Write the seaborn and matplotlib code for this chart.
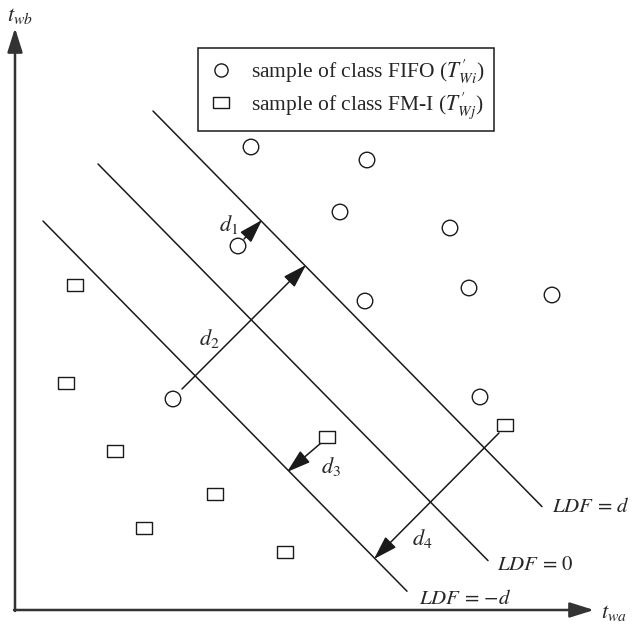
import pandas as pd
import matplotlib.pyplot as plt
import seaborn as sns
from matplotlib.lines import Line2D

# sample positions (picture units, y grows downward)
fifo_x = [251, 367, 340, 450, 238, 365, 469, 552, 173, 480]
fifo_y = [147, 160, 212, 228, 246, 301, 288, 295, 399, 397]
fmi_x = [75, 66, 327, 505, 115, 215, 144, 285]
fmi_y = [285, 383, 437, 425, 451, 494, 528, 552]

# discriminant lines: y = intercept + slope * x
ldf_labels = ['$LDF\\,=\\,d$', '$LDF\\,=\\,0$', '$LDF\\,=\\,{-}d$']
ldf_intercept = [-44.6, 64.3, 177.3]
ldf_slope = 1.017
ldf_xstart = [153, 98, 43]
ldf_xend = [542, 488, 407]
ldf_label_xy = [(552, 508), (497, 566), (419, 600)]

# distance arrows (tail -> head) and their labels
dist_names = ['$d_1$', '$d_2$', '$d_3$', '$d_4$']
dist_tail = [(244, 239), (182, 389), (321, 443), (499, 433)]
dist_head = [(262, 220), (306, 265), (287, 472), (374, 559)]
dist_label_xy = [(229, 224), (209, 339), (331, 467), (422, 539)]

sns.set_style('white')
plt.rcParams['font.family'] = ['Liberation Serif', 'DejaVu Serif']
plt.rcParams['mathtext.fontset'] = 'stix'

fig = plt.figure(figsize=(6.35, 6.27), dpi=100)
ax = fig.add_axes([0, 0, 1, 1])

samples = pd.DataFrame({
    'x': fifo_x + fmi_x,
    'y': fifo_y + fmi_y,
    'cls': ['FIFO'] * len(fifo_x) + ['FM-I'] * len(fmi_x),
})
rect = [(-1, -0.72), (1, -0.72), (1, 0.72), (-1, 0.72), (-1, -0.72)]

rows = []
for i in range(len(ldf_labels)):
    for xx in (ldf_xstart[i], ldf_xend[i]):
        rows.append({'x': xx, 'y': ldf_intercept[i] + ldf_slope * xx, 'level': i})
lines = pd.DataFrame(rows)
sns.lineplot(data=lines, x='x', y='y', units='level', estimator=None,
             sort=False, color='#1a1a1a', lw=1.1, ax=ax, legend=False)

sns.scatterplot(data=samples, x='x', y='y', style='cls',
                markers={'FIFO': 'o', 'FM-I': rect}, color='white',
                edgecolor='#1a1a1a', linewidth=1.0, s=125, ax=ax,
                legend=False, zorder=5)

for i, lab in enumerate(ldf_labels):
    ax.text(*ldf_label_xy[i], lab, fontsize=15, ha='left', va='center')

arrow_kw = dict(arrowstyle='-|>,head_length=0.7,head_width=0.22',
                color='#1a1a1a', lw=1.1, shrinkA=0, shrinkB=0,
                mutation_scale=21)
for i, lab in enumerate(dist_names):
    ax.annotate('', xy=dist_head[i], xytext=dist_tail[i], arrowprops=arrow_kw)
    ax.text(*dist_label_xy[i], lab, fontsize=16, ha='center', va='center')

# coordinate axes
axis_kw = dict(arrowstyle='-|>,head_length=0.7,head_width=0.22',
               color='#333333', lw=1.8, shrinkA=0, shrinkB=0,
               mutation_scale=21)
ax.annotate('', xy=(594, 610), xytext=(14, 610), arrowprops=axis_kw)
ax.annotate('', xy=(15, 28), xytext=(15, 611), arrowprops=axis_kw)
ax.text(601, 613, '$t_{wa}$', fontsize=16, ha='left', va='center')
ax.text(20, 16, '$t_{wb}$', fontsize=16, ha='center', va='center')

handles = [
    Line2D([], [], ls='none', marker='o', ms=9.5, mfc='white', mec='#1a1a1a', mew=1.0),
    Line2D([], [], ls='none', marker=rect, ms=11, mfc='white', mec='#1a1a1a', mew=1.0),
]
leg = ax.legend(handles, [r"sample of class FIFO ($T^{\prime}_{Wi}$)",
                          r"sample of class FM-I ($T^{\prime}_{Wj}$)"],
                loc='upper left', bbox_to_anchor=(198, 48),
                bbox_transform=ax.transData, fontsize=15.5, frameon=True,
                fancybox=False, edgecolor='#1a1a1a', framealpha=1,
                handlelength=1.2, handletextpad=0.8, labelspacing=0.2,
                borderpad=0.45, borderaxespad=0)
leg.get_frame().set_linewidth(1.1)

ax.set_xlim(0, 635)
ax.set_ylim(627, 0)
ax.axis('off')
fig.savefig('out.png', dpi=100)
